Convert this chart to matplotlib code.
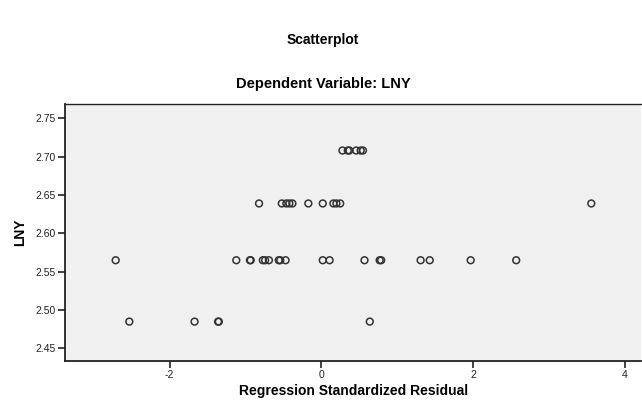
import matplotlib
matplotlib.use("Agg")
import matplotlib.pyplot as plt
import numpy as np

plt.rcParams['font.family'] = ['Liberation Sans', 'DejaVu Sans']

# Regression standardized residuals grouped by LNY level
resid_2708 = [0.28, 0.35, 0.37, 0.46, 0.52, 0.55]
resid_2639 = [-0.82, -0.52, -0.46, -0.42, -0.38, -0.17, 0.02, 0.16, 0.20, 0.25, 3.56]
resid_2565 = [-2.71, -1.12, -0.94, -0.93, -0.77, -0.74, -0.69, -0.56, -0.54, -0.47,
              0.02, 0.11, 0.57, 0.77, 0.79, 1.31, 1.43, 1.97, 2.57]
resid_2485 = [-2.53, -1.67, -1.36, -1.35, 0.64]
lny_levels = [2.708, 2.639, 2.565, 2.485]

xticks = [-2, 0, 2, 4]
yticks = [2.45, 2.50, 2.55, 2.60, 2.65, 2.70, 2.75]

fig = plt.figure(figsize=(6.42, 4.01), dpi=100)
ax = fig.add_axes([0.101, 0.0998, 0.898, 0.6408])
ax.set_facecolor('#F0F0F0')

groups = [resid_2708, resid_2639, resid_2565, resid_2485]
for lvl, xs in zip(lny_levels, groups):
    ax.scatter(xs, [lvl] * len(xs), s=24, facecolors='none', edgecolors='#333333',
               linewidths=1.1, zorder=3)

ax.set_xlim(-3.38, 4.22)
ax.set_ylim(2.4337, 2.7686)
ax.set_xticks(xticks)
ax.set_xticklabels([str(t) for t in xticks])
ax.set_yticks(yticks)
ax.set_yticklabels([f"{t:.2f}" for t in yticks])
ax.tick_params(axis='both', labelsize=7.5, colors='#222222', length=5, width=1.2,
               direction='out', pad=1.5)

for s in ['left', 'bottom']:
    ax.spines[s].set_color('#222222')
    ax.spines[s].set_linewidth(1.3)
ax.spines['top'].set_color('#222222')
ax.spines['top'].set_linewidth(1.0)
ax.spines['right'].set_visible(False)

ax.set_xlabel('Regression Standardized Residual', fontsize=10, fontweight='bold', labelpad=3)
ax.set_ylabel('LNY', fontsize=10, fontweight='bold', labelpad=6)

fig.text(0.5035, 0.9, 'Scatterplot', ha='center', va='center', fontsize=10, fontweight='bold')
fig.text(0.5035, 0.79, 'Dependent Variable: LNY', ha='center', va='center', fontsize=10.5,
         fontweight='bold')

fig.savefig('out.png', dpi=100)
